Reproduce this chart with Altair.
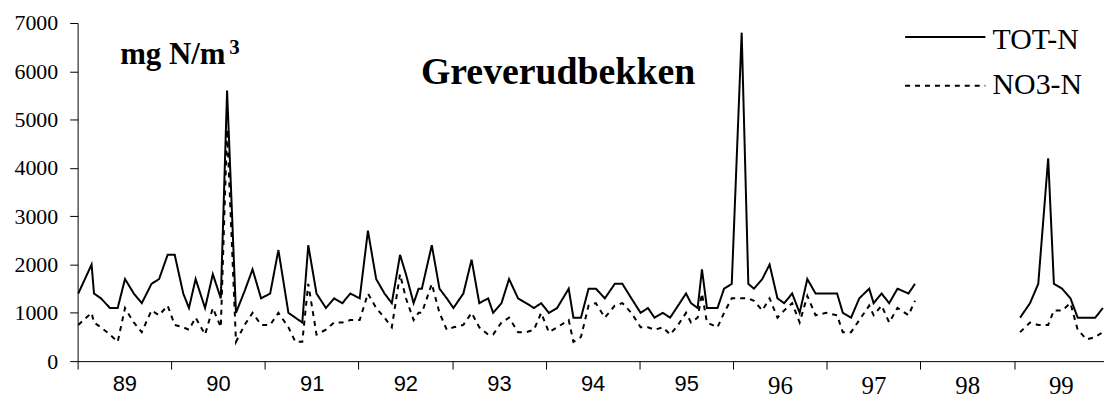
import altair as alt
import pandas as pd

# sample dates (decimal years) and values, mg N/m3
t_a = [1989.007, 1989.149, 1989.175, 1989.249, 1989.345, 1989.428, 1989.506, 1989.600,
       1989.685, 1989.789, 1989.870, 1989.961, 1990.037, 1990.128, 1990.189, 1990.260,
       1990.361, 1990.444, 1990.529, 1990.596, 1990.691, 1990.783, 1990.868, 1990.959,
       1991.056, 1991.144, 1991.251, 1991.325, 1991.399, 1991.463, 1991.551, 1991.651,
       1991.739, 1991.827, 1991.912, 1992.012, 1992.100, 1992.188, 1992.277, 1992.355,
       1992.443, 1992.506, 1992.588, 1992.641, 1992.676, 1992.782, 1992.864, 1992.942,
       1993.013, 1993.119, 1993.207, 1993.289, 1993.384, 1993.437, 1993.526, 1993.607,
       1993.703, 1993.791, 1993.873, 1993.950, 1994.032, 1994.120, 1994.244, 1994.294,
       1994.375, 1994.456, 1994.534, 1994.630, 1994.736, 1994.817, 1994.913, 1995.012,
       1995.090, 1995.160, 1995.249, 1995.327, 1995.412, 1995.497, 1995.550, 1995.621,
       1995.667, 1995.720, 1995.833, 1995.903, 1995.985, 1996.091, 1996.162, 1996.222,
       1996.311, 1996.389, 1996.473, 1996.545, 1996.630, 1996.710, 1996.792, 1996.880,
       1996.994, 1997.110, 1997.171, 1997.259, 1997.347, 1997.453, 1997.500, 1997.585,
       1997.666, 1997.755, 1997.872, 1997.942]
tot_a = [1400, 2000, 1400, 1300, 1100, 1100, 1700, 1400,
         1200, 1600, 1700, 2200, 2200, 1400, 1100, 1700,
         1100, 1800, 1300, 5600, 1000, 1450, 1900, 1300,
         1400, 2300, 1000, 900, 800, 2400, 1400, 1100,
         1300, 1200, 1400, 1300, 2700, 1700, 1400, 1200,
         2200, 1800, 1200, 1500, 1500, 2400, 1500, 1300,
         1100, 1400, 2100, 1200, 1300, 1000, 1200, 1700,
         1300, 1200, 1100, 1200, 1000, 1100, 1500, 900,
         900, 1500, 1500, 1300, 1600, 1600, 1300, 1000,
         1100, 900, 1000, 900, 1150, 1400, 1200, 1100,
         1900, 1100, 1100, 1500, 1600, 6800, 1600, 1500,
         1700, 2000, 1300, 1200, 1400, 1000, 1700, 1400,
         1400, 1400, 1000, 900, 1300, 1500, 1200, 1400,
         1200, 1500, 1400, 1600]
no3_a = [750, 1000, 800, 700, 550, 400, 1100, 800,
         600, 1050, 950, 1150, 750, 700, 650, 900,
         550, 1100, 700, 4800, 400, 750, 1000, 750,
         750, 1000, 700, 400, 400, 1600, 550, 650,
         800, 800, 850, 850, 1400, 1100, 900, 700,
         1800, 1300, 850, 1000, 1000, 1600, 1000, 650,
         700, 750, 1000, 700, 550, 550, 800, 900,
         600, 600, 650, 1000, 600, 700, 850, 400,
         500, 1150, 1200, 900, 1150, 1200, 1000, 700,
         700, 650, 700, 550, 750, 1000, 800, 900,
         1400, 800, 700, 1000, 1300, 1300, 1300, 1250,
         1050, 1300, 900, 1050, 1200, 800, 1350, 950,
         1000, 950, 600, 600, 850, 1150, 950, 1150,
         800, 1100, 950, 1250]

t_b = [1999.064, 1999.170, 1999.258, 1999.364, 1999.425, 1999.513, 1999.602,
       1999.679, 1999.775, 1999.867, 1999.948]
tot_b = [900, 1200, 1600, 4200, 1600, 1500, 1300, 900, 900, 900, 1100]
no3_b = [600, 800, 750, 750, 1050, 1050, 1200, 650, 450, 500, 600]

series_names = ["TOT-N", "NO3-N"]
year_ticks = list(range(1989, 2000))
y_ticks = [0, 1000, 2000, 3000, 4000, 5000, 6000, 7000]

rows = []
for seg, (ts, tot, no3) in enumerate([(t_a, tot_a, no3_a), (t_b, tot_b, no3_b)]):
    for t, a, b in zip(ts, tot, no3):
        rows.append({"t": t, "v": a, "series": "TOT-N", "seg": f"TOT-{seg}"})
        rows.append({"t": t, "v": b, "series": "NO3-N", "seg": f"NO3-{seg}"})
df = pd.DataFrame(rows)

x_scale = alt.Scale(domain=[1989, 1999.96], nice=False, zero=False)
y_scale = alt.Scale(domain=[0, 7000], nice=False)
dash_scale = alt.Scale(domain=series_names, range=[[1, 0], [5, 5]])

lines = alt.Chart(df).mark_line(strokeWidth=2, color="black").encode(
    x=alt.X("t:Q", scale=x_scale, title=None,
            axis=alt.Axis(values=year_ticks, grid=False, tickSize=8, tickColor="black",
                          domainColor="black", labelColor="black",
                          labelExpr="'' + (datum.value - 1900)",
                          labelOffset=47, labelPadding=5, labelOverlap=False,
                          labelFlush=False, labelBound=False,
                          labelFont={"condition": {"test": "datum.value >= 1996",
                                                   "value": "Liberation Serif"},
                                     "value": "Liberation Sans"},
                          labelFontSize={"condition": {"test": "datum.value >= 1996",
                                                       "value": 25},
                                         "value": 22})),
    y=alt.Y("v:Q", scale=y_scale, title=None,
            axis=alt.Axis(values=y_ticks, grid=False, tickSize=8, tickColor="black",
                          domainColor="black", labelColor="black", format="d",
                          labelFont="Liberation Serif", labelFontSize=22,
                          labelPadding=12)),
    strokeDash=alt.StrokeDash("series:N", scale=dash_scale, legend=None),
    detail="seg:N",
    order="t:Q",
)

# legend drawn as layers
leg_df = pd.DataFrame({"series": series_names})
leg_lines = alt.Chart(leg_df).mark_rule(strokeWidth=2, color="black").encode(
    x=alt.datum(1997.836), x2=alt.datum(1998.693),
    y=alt.Y("ly:Q", scale=y_scale),
    strokeDash=alt.StrokeDash("series:N", scale=dash_scale, legend=None),
).transform_calculate(ly="datum.series == 'TOT-N' ? 6712 : 5703")

leg_text = alt.Chart(leg_df).mark_text(
    font="Liberation Serif", fontSize=30, align="left", baseline="alphabetic",
    color="black").encode(
    x=alt.datum(1998.77),
    y=alt.Y("ly:Q", scale=y_scale),
    text="series:N",
).transform_calculate(ly="datum.series == 'TOT-N' ? 6459 : 5532")

title_txt = alt.Chart(pd.DataFrame({"s": ["Greverudbekken"]})).mark_text(
    font="Liberation Serif", fontWeight="bold", fontSize=38, align="center",
    baseline="alphabetic", color="black").encode(
    x=alt.datum(1994.13), y=alt.datum(5730), text="s:N")

unit_txt = alt.Chart(pd.DataFrame({"s": ["mg N/m"]})).mark_text(
    font="Liberation Serif", fontWeight="bold", fontSize=31, align="left",
    baseline="alphabetic", color="black").encode(
    x=alt.datum(1989.454), y=alt.datum(6144), text="s:N")

sup_txt = alt.Chart(pd.DataFrame({"s": ["3"]})).mark_text(
    font="Liberation Serif", fontWeight="bold", fontSize=21, align="left",
    baseline="alphabetic", color="black").encode(
    x=alt.datum(1990.62), y=alt.datum(6356), text="s:N")

chart = alt.layer(lines, leg_lines, leg_text, title_txt, unit_txt, sup_txt).properties(
    width=1032, height=340,
    autosize=alt.AutoSizeParams(type="none"),
    padding={"left": 70, "top": 14, "right": 0, "bottom": 38},
    background="white",
).configure_view(stroke=None)

chart.save("out.html", embed_options={"renderer": "svg", "actions": False})
